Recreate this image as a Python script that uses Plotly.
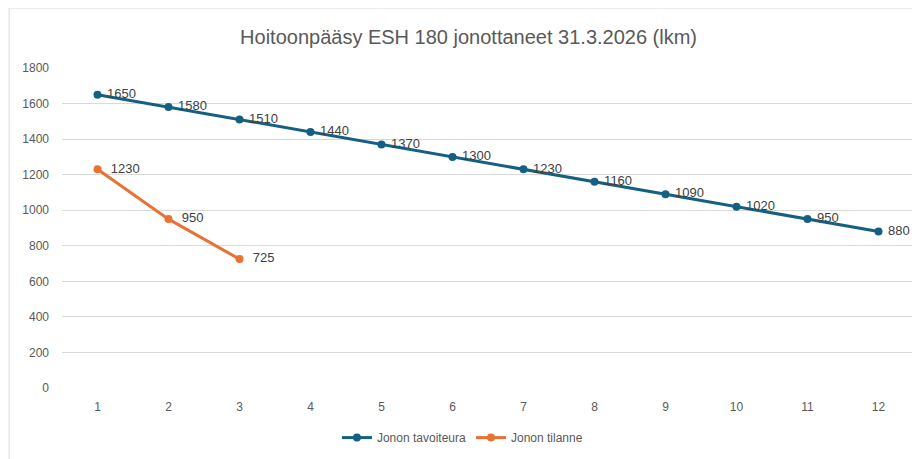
import plotly.graph_objects as go

# data
kuukaudet = list(range(1, 13))
tavoiteura = [1650, 1580, 1510, 1440, 1370, 1300, 1230, 1160, 1090, 1020, 950, 880]
tilanne_kk = [1, 2, 3]
tilanne = [1230, 950, 725]

sininen = "#156082"
oranssi = "#e97132"
label_font = dict(family="Liberation Sans, Arial", size=13, color="#404040")

fig = go.Figure()

fig.add_trace(go.Scatter(
    x=kuukaudet, y=tavoiteura,
    mode="lines+markers+text",
    name="Jonon tavoiteura",
    line=dict(color=sininen, width=3),
    marker=dict(color=sininen, size=8),
    text=[" " + str(v) for v in tavoiteura],
    textposition="middle right",
    textfont=label_font,
    cliponaxis=False,
))

fig.add_trace(go.Scatter(
    x=tilanne_kk, y=tilanne,
    mode="lines+markers+text",
    name="Jonon tilanne",
    line=dict(color=oranssi, width=3),
    marker=dict(color=oranssi, size=8),
    text=["  " + str(v) for v in tilanne],
    textposition="middle right",
    textfont=label_font,
    cliponaxis=False,
))

# kehys kaavion ympärillä
fig.add_shape(type="rect", xref="paper", yref="paper",
              x0=-0.062, x1=1.02, y0=-0.25, y1=1.1875,
              line=dict(color="#d9d9d9", width=1), fillcolor="rgba(0,0,0,0)")

# sivun body-marginaali (8px) huomioitu
fig.update_layout(
    width=912, height=451,
    margin=dict(l=54, r=6, t=60, b=71),
    paper_bgcolor="white",
    plot_bgcolor="white",
    title=dict(text="Hoitoonpääsy ESH 180 jonottaneet 31.3.2026 (lkm)",
               x=0.505, xanchor="center", y=0.935, yanchor="middle",
               font=dict(family="Liberation Sans Narrow, Liberation Sans, Arial", size=20, color="#595959")),
    xaxis=dict(range=[0.5, 12.5], tickmode="array", tickvals=kuukaudet,
               showgrid=False, zeroline=False, showline=False,
               ticks="", ticklabelstandoff=10,
               tickfont=dict(family="Liberation Sans, Arial", size=12, color="#595959")),
    yaxis=dict(range=[0, 1800], dtick=200, showgrid=True, gridcolor="#d9d9d9", gridwidth=1,
               zeroline=False, showline=False, ticks="", ticklabelstandoff=12,
               tickfont=dict(family="Liberation Sans, Arial", size=12, color="#595959")),
    legend=dict(orientation="h", x=0.47, xanchor="center", y=-0.155, yanchor="middle",
                font=dict(family="Liberation Sans Narrow, Liberation Sans, Arial", size=12, color="#595959"),
                itemwidth=30),
    showlegend=True,
)

fig.write_html("out.html")
